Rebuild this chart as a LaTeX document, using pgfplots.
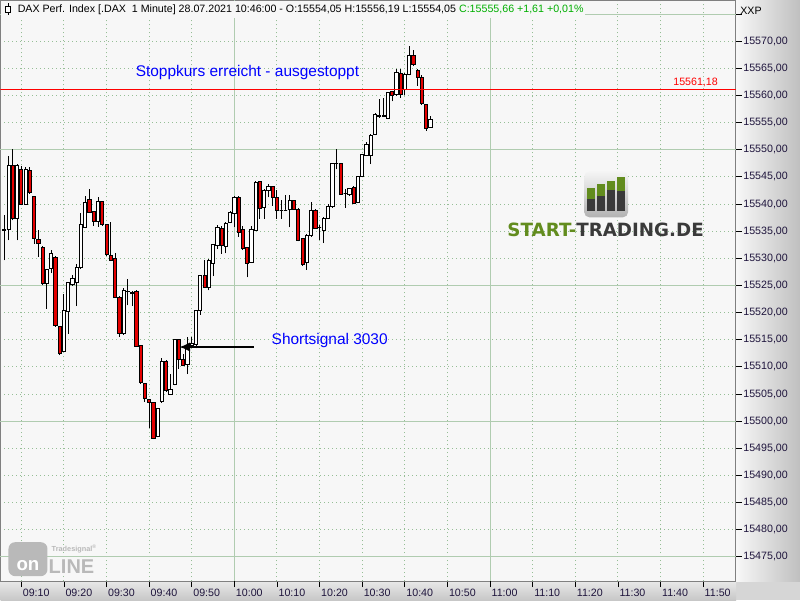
\documentclass[border=0pt]{standalone}
\usepackage{fontspec}
\setmainfont{Liberation Sans}
\newfontfamily\logofont{DejaVu Sans}
\usepackage{pgfplots}
\pgfplotsset{compat=1.18}
\usepackage{pgfplotstable}
\usetikzlibrary{arrows.meta}

\definecolor{plotbg}{RGB}{247,247,247}
\definecolor{gridsolid}{RGB}{176,204,176}
\definecolor{griddot}{RGB}{150,190,150}
\definecolor{candlered}{RGB}{228,0,0}
\definecolor{stopred}{RGB}{255,0,0}
\definecolor{labelink}{RGB}{30,20,60}
\definecolor{titlegreen}{RGB}{0,175,0}
\definecolor{logogreen}{RGB}{98,140,30}
\definecolor{logogrey}{RGB}{58,58,58}
\definecolor{tsgrey}{RGB}{185,185,185}

% one row per 1-minute candle, t = minutes after 09:00
\pgfplotstableread{
t o h l c
6 15535.3 15537.9 15529.6 15535.1
7 15535.24 15548.8 15533.3 15547.06
8 15547.06 15550.1 15537.0 15537.44
9 15537.44 15547.3 15533.3 15547.06
10 15546.45 15547.06 15539.8 15540.02
11 15540.0 15546.9 15539.8 15546.45
12 15546.26 15546.75 15541.9 15542.16
13 15541.36 15541.5 15532.67 15533.7
14 15533.46 15535.24 15530.22 15532.67
15 15532.05 15532.3 15525.0 15525.32
16 15525.32 15528.1 15520.72 15527.89
17 15528.08 15531.57 15527.28 15530.83
18 15530.22 15530.5 15517.4 15517.66
19 15517.48 15517.6 15512.15 15512.57
20 15512.94 15523.36 15512.7 15520.42
21 15520.29 15525.7 15516.13 15525.5
22 15525.13 15526.85 15524.9 15526.36
23 15525.62 15529.0 15521.21 15528.38
24 15528.26 15538.3 15528.0 15536.16
25 15535.73 15541.55 15535.5 15540.32
26 15540.94 15542.77 15538.3 15538.49
27 15538.61 15538.8 15536.04 15536.83
28 15536.83 15541.36 15535.85 15540.44
29 15540.44 15540.6 15536.0 15536.22
30 15536.16 15536.3 15530.5 15530.65
31 15530.53 15536.65 15529.48 15529.6
32 15530.03 15530.95 15522.7 15522.87
33 15522.87 15523.0 15515.51 15516.13
34 15516.13 15524.52 15515.9 15524.1
35 15523.97 15526.12 15521.33 15523.9
36 15523.48 15524.0 15521.2 15523.79
37 15523.91 15524.1 15513.7 15513.86
38 15513.98 15514.1 15506.9 15507.06
39 15506.94 15507.1 15503.6 15504.12
40 15504.0 15504.1 15498.67 15503.45
41 15503.45 15503.6 15496.7 15496.83
42 15497.14 15502.5 15497.0 15502.35
43 15503.6 15511.7 15503.4 15511.0
44 15511.04 15511.2 15505.4 15505.59
45 15505.02 15508.65 15504.9 15505.94
46 15506.75 15515.2 15506.6 15515.0
47 15515.03 15515.2 15509.7 15511.35
48 15511.35 15512.4 15510.1 15510.31
49 15510.49 15515.5 15508.65 15513.98
50 15513.98 15515.5 15513.5 15514.3
51 15514.17 15520.5 15513.4 15520.4
52 15520.4 15527.0 15519.6 15526.85
53 15526.85 15529.6 15524.5 15524.7
54 15524.7 15529.8 15524.1 15529.7
55 15529.1 15532.7 15526.7 15532.54
56 15532.36 15536.2 15531.75 15535.6
57 15535.6 15536.0 15530.8 15532.36
58 15532.17 15536.7 15530.9 15536.5
59 15536.65 15538.7 15536.5 15538.5
60 15538.3 15541.4 15535.7 15541.24
61 15541.24 15541.4 15534.0 15534.8
62 15535.24 15536.0 15531.5 15531.75
63 15531.93 15532.1 15526.5 15529.0
64 15529.3 15536.0 15529.1 15535.24
65 15535.1 15544.2 15535.0 15543.9
66 15544.1 15544.3 15537.3 15539.1
67 15539.3 15542.8 15537.3 15542.6
68 15542.6 15543.7 15541.2 15543.2
69 15543.2 15543.4 15539.7 15541.2
70 15541.2 15542.6 15537.3 15538.8
71 15538.9 15540.75 15537.3 15538.9
72 15538.9 15541.7 15538.7 15538.9
73 15539.1 15541.7 15535.7 15540.6
74 15540.6 15540.8 15538.9 15539.1
75 15539.1 15539.3 15533.1 15533.3
76 15533.6 15533.8 15528.6 15528.9
77 15529.3 15534.4 15527.9 15534.2
78 15534.2 15540.3 15534.0 15538.9
79 15538.9 15539.1 15535.4 15535.6
80 15535.7 15536.2 15533.3 15535.7
81 15535.2 15537.6 15532.8 15537.4
82 15537.4 15540.0 15537.2 15539.5
83 15539.5 15547.6 15539.3 15547.4
84 15547.5 15550.1 15546.4 15547.5
85 15547.4 15547.6 15541.7 15541.85
86 15541.9 15542.8 15539.3 15541.9
87 15541.7 15543.0 15541.5 15542.8
88 15543.0 15543.3 15540.0 15540.2
89 15540.3 15545.2 15540.1 15545.0
90 15545.1 15549.2 15544.9 15549.07
91 15549.0 15551.35 15548.8 15551.04
92 15548.9 15552.9 15547.37 15552.7
93 15552.9 15556.7 15552.7 15556.56
94 15556.2 15559.3 15555.9 15556.3
95 15556.1 15559.6 15556.0 15556.3
96 15555.8 15560.7 15555.6 15560.5
97 15560.66 15560.8 15558.9 15560.1
98 15560.2 15564.9 15559.9 15564.2
99 15564.0 15564.8 15559.6 15560.2
100 15561.15 15564.1 15560.0 15563.9
101 15563.9 15569.1 15563.7 15567.46
102 15567.46 15568.4 15565.4 15565.74
103 15564.6 15564.8 15561.8 15563.3
104 15563.3 15563.8 15558.3 15558.5
105 15558.3 15558.5 15553.5 15554.0
106 15554.05 15556.19 15554.05 15555.66
}\dax

% pt per index point on the y axis (axis height / y range)
\def\yk{4.0740}
\pgfdeclareplotmark{candlenone}{}
\newcommand\drawcandle{%
  \pgfscope
  \pgfmathsetmacro\cH{\dH}%
  \pgfmathsetmacro\cL{\dL}%
  \pgfmathsetmacro\cB{\dB}%
  \pgfsetlinewidth{0.75pt}\pgfsetstrokecolor{black}%
  \pgfpathmoveto{\pgfpoint{0pt}{\cL pt}}%
  \pgfpathlineto{\pgfpoint{0pt}{\cH pt}}%
  \pgfusepath{stroke}%
  \ifdim\cB pt<0pt \pgfsetfillcolor{candlered}\else\pgfsetfillcolor{white}\fi
  \pgfsetlinewidth{0.6pt}%
  \pgfpathrectangle{\pgfpoint{-1.2pt}{0pt}}{\pgfpoint{2.4pt}{\cB pt}}%
  \pgfusepath{fill,stroke}%
  \endpgfscope
}

\begin{document}
\begin{tikzpicture}
% background bands, in pixel units (origin top left)
\begin{scope}[x=0.75pt,y=-0.75pt]
  \path[use as bounding box] (0,0) rectangle (800,600);
  \fill[black!16] (0,0) rectangle (800,600);
  \shade[left color=black!3, right color=black!25] (736,0) rectangle (800,581);
  \shade[top color=black!9, bottom color=black!22] (0,581) rectangle (736,600);
\end{scope}

\begin{axis}[
  at={(0,0)}, anchor=north west,
  scale only axis,
  width=551.8pt, height=435.75pt,
  xmin=5.12, xmax=177.66,
  ymin=15470.53, ymax=15577.49,
  clip marker paths=true,
  axis background/.style={fill=plotbg},
  axis line style={black!50, line width=0.75pt},
  xtick pos=lower, xticklabel pos=lower,
  ytick pos=upper, yticklabel pos=upper,
  tick align=outside,
  major tick length=4.5pt, minor tick length=2.2pt,
  tick style={black, line width=0.6pt},
  xtick={10,20,...,170},
  xticklabels={09:10,09:20,09:30,09:40,09:50,10:00,10:10,10:20,10:30,10:40,10:50,11:00,11:10,11:20,11:30,11:40,11:50},
  ytick={15475,15480,...,15570},
  minor y tick num=4,
  scaled y ticks=false,
  yticklabel style={font=\fontsize{8}{9.6}\selectfont, text=labelink, anchor=west, inner sep=1pt,
    /pgf/number format/fixed, /pgf/number format/fixed zerofill,
    /pgf/number format/precision=2, /pgf/number format/use comma,
    /pgf/number format/1000 sep={}, /pgf/number format/assume math mode=true},
  xticklabel style={font=\fontsize{8}{9.6}\selectfont, text=labelink, anchor=west, inner sep=1pt, yshift=-4pt},
  grid=major,
  major grid style={griddot, line width=0.75pt, dash pattern=on 0.75pt off 2.25pt},
  extra y ticks={15475,15500,15525,15550,15575},
  extra y tick labels={},
  extra y tick style={grid=major, major grid style={gridsolid, solid, line width=0.75pt}},
  extra x ticks={60,120},
  extra x tick labels={},
  extra x tick style={grid=major, major grid style={gridsolid, solid, line width=0.75pt}},
]
  \addplot[scatter, only marks, mark=candlenone,
    visualization depends on={(\thisrow{h}-\thisrow{o})*\yk \as \dH},
    visualization depends on={(\thisrow{l}-\thisrow{o})*\yk \as \dL},
    visualization depends on={(\thisrow{c}-\thisrow{o})*\yk \as \dB},
    scatter/@pre marker code/.code={\drawcandle},
    scatter/@post marker code/.code={},
  ] table[x=t, y=o] {\dax};
  % stop level
  \draw[draw=stopred, line width=0.75pt] (axis cs:5.12,15561.18) -- (axis cs:177.66,15561.18);
  \draw[black, line width=1.2pt, -{Latex[length=8pt,width=7pt]}] (axis cs:64.5,15513.66) -- (axis cs:47.1,15513.66);
  \node[anchor=west, inner sep=0, text=blue, font=\fontsize{11.6}{13}\selectfont] at (axis cs:36.8,15564.2) {Stoppkurs erreicht - ausgestoppt};
  \node[anchor=west, inner sep=0, text=blue, font=\fontsize{11.6}{13}\selectfont] at (axis cs:68.7,15514.9) {Shortsignal 3030};
  \node[anchor=east, inner sep=0, text=stopred, font=\fontsize{8}{9.6}\selectfont] at (axis cs:173.5,15562.4) {15561,18};
\end{axis}

\begin{scope}[x=0.75pt,y=-0.75pt]
  % title box
  \fill[plotbg] (1,0.5) rectangle (585,18);
  \draw[black, line width=0.6pt] (7.5,3) -- (7.5,15);
  \filldraw[fill=white, draw=black, line width=0.6pt] (5,6) rectangle (10,12);
  \node[anchor=west, inner sep=0] at (17,9.5) {\fontsize{8}{10}\selectfont DAX Perf. Index [.DAX\ \ 1 Minute] 28.07.2021 10:46:00 - O:15554,05 H:15556,19 L:15554,05 \textcolor{titlegreen}{C:15555,66 +1,61 +0,01\%}};
  \node[anchor=west, inner sep=0] at (740,10) {\fontsize{8}{9.6}\selectfont XXP};
  % START-TRADING.DE logo
  \shade[top color=black!4, bottom color=black!30, rounded corners=4pt] (584,171) rectangle (628,217);
  \fill[logogreen] (587,188) rectangle (595,199);
  \fill[logogreen] (597,184) rectangle (605,196);
  \fill[logogreen] (607,181) rectangle (615,190);
  \fill[logogreen] (617,177) rectangle (625,191);
  \fill[logogrey] (587,199) rectangle (595,211);
  \fill[logogrey] (597,196) rectangle (605,211);
  \fill[logogrey] (607,190) rectangle (615,211);
  \fill[logogrey] (617,191) rectangle (625,211);
  \node[anchor=west, inner sep=0] at (507,229) {\logofont\bfseries\fontsize{13.7}{15}\selectfont\textcolor{logogreen}{START-}\textcolor{logogrey}{TRADING.DE}};
  % Tradesignal online logo
  \fill[tsgrey, rounded corners=5pt] (8,542) rectangle (47,576);
  \node[text=white, inner sep=0, font=\bfseries\fontsize{14}{15}\selectfont] at (27.5,565) {on};
  \node[anchor=west, text=tsgrey, inner sep=0, font=\bfseries\fontsize{15}{16}\selectfont] at (48,566) {LINE};
  \node[anchor=west, text=tsgrey, inner sep=0, font=\bfseries\fontsize{5.5}{6}\selectfont] at (51,549) {Tradesignal\textsuperscript{®}};
\end{scope}
\end{tikzpicture}
\end{document}
